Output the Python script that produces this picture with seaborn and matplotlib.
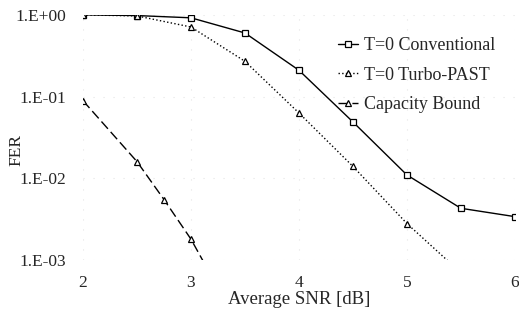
import numpy as np
import pandas as pd
import matplotlib
matplotlib.use("Agg")
import matplotlib.pyplot as plt
import seaborn as sns

# values
snr_conv = [2.0, 2.5, 3.0, 3.5, 4.0, 4.5, 5.0, 5.5, 6.0]
fer_conv = [1.0, 0.98, 0.92, 0.60, 0.21, 0.049, 0.011, 0.0043, 0.0034]

snr_turbo = [2.0, 2.5, 3.0, 3.5, 4.0, 4.5, 5.0, 5.5]
fer_turbo = [1.0, 0.97, 0.71, 0.27, 0.063, 0.014, 0.0028, 0.0007]

snr_cap = [2.0, 2.5, 2.75, 3.0, 3.2]
fer_cap = [0.089, 0.016, 0.0055, 0.0018, 0.0006]

labels = ["T=0 Conventional", "T=0 Turbo-PAST", "Capacity Bound"]
xticks = [2, 3, 4, 5, 6]
yticks = [1e0, 1e-1, 1e-2, 1e-3]
ytick_labels = ["1.E+00", "1.E-01", "1.E-02", "1.E-03"]

sns.set_style("white")
plt.rcParams['font.family'] = ['Liberation Serif', 'DejaVu Serif']

fig, ax = plt.subplots(figsize=(5.19, 3.16), dpi=100)
fig.subplots_adjust(left=0.16, right=0.992, top=0.953, bottom=0.177)

df_conv = pd.DataFrame({"snr": snr_conv, "fer": fer_conv})
df_turbo = pd.DataFrame({"snr": snr_turbo, "fer": fer_turbo})
df_cap = pd.DataFrame({"snr": snr_cap, "fer": fer_cap})

mk = dict(markersize=4.5, markerfacecolor="white", markeredgecolor="black",
          markeredgewidth=0.9, color="black")
sns.lineplot(data=df_conv, x="snr", y="fer", ax=ax, marker="s", linestyle="-",
             linewidth=1.0, label=labels[0], **mk)
sns.lineplot(data=df_turbo, x="snr", y="fer", ax=ax, marker="^", linestyle=":",
             linewidth=1.0, label=labels[1], **mk)
sns.lineplot(data=df_cap, x="snr", y="fer", ax=ax, marker="^", linestyle=(0, (7, 3)),
             linewidth=1.0, label=labels[2], **mk)

ax.set_yscale("log")
ax.set_xlim(2, 6)
ax.set_ylim(1e-3, 1.0)
ax.set_xticks(xticks)
ax.set_xticklabels([str(t) for t in xticks], fontsize=12.5)
ax.set_yticks(yticks)
ax.set_yticklabels(ytick_labels, fontsize=12.5)
ax.yaxis.set_minor_locator(matplotlib.ticker.NullLocator())
ax.tick_params(axis="y", length=0, pad=12)
ax.tick_params(axis="x", length=0, pad=11)

ax.grid(True, color="#e4e4e4", linestyle=(0, (1, 8)), linewidth=0.8)
for s in ax.spines.values():
    s.set_visible(False)

ax.set_xlabel("Average SNR [dB]", fontsize=13.5, labelpad=0)
ax.set_ylabel("FER", fontsize=12.5)
ax.yaxis.set_label_coords(-0.135, 0.45)

ax.legend(loc="upper right", bbox_to_anchor=(0.975, 0.945), frameon=False,
          fontsize=13, handlelength=1.1, handletextpad=0.3, labelspacing=0.68,
          borderaxespad=0.1)

fig.savefig("out.png", dpi=100)
